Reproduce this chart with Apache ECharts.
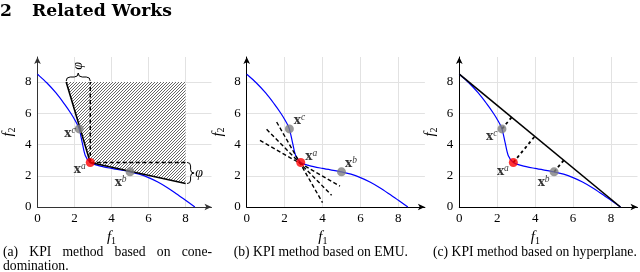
<!DOCTYPE html>
<html><head><meta charset="utf-8">
<script src="https://cdn.jsdelivr.net/npm/echarts@6/dist/echarts.min.js"></script>
<style>html,body{margin:0;padding:0;background:#fff}#c{width:640px;height:272px}</style>
</head><body><div id="c"></div>
<script>
// ---------------- data ----------------
const frontF1 = [0, 0.5, 1.0, 1.45, 1.8, 2.05, 2.25, 2.42, 2.58, 2.85, 3.3, 4.0, 5.0, 5.5, 6.0, 6.5, 7.0, 7.5, 8.0, 8.5];
const frontF2 = [8.5, 7.95, 7.3, 6.6, 6.0, 5.5, 5.0, 4.1, 3.3, 2.85, 2.65, 2.47, 2.25, 2.1, 1.88, 1.6, 1.25, 0.85, 0.43, 0];
const pointA = [2.85, 2.85];
const pointB = [5.0, 2.25];
const pointC = [2.25, 5.0];
const pointNames = ['c', 'a', 'b'];
const axisTicks = [0, 2, 4, 6, 8];
// (a) cone domination
const coneLineF1 = [1.55, 2.85, 8.0];
const coneLineF2 = [8.0, 2.85, 1.5];
const hatchF1 = [1.55, 2.85, 8.0, 8.0];
const hatchF2 = [8.0, 2.85, 1.5, 8.0];
const coneDashV = [[2.85, 2.85], [2.85, 8.0]];
const coneDashH = [[2.85, 2.85], [8.0, 2.85]];
const braceTop = [[1.55, 8.0], [2.85, 8.0]];
const braceRight = [[8.0, 2.85], [8.0, 1.5]];
// (b) EMU: dashed lines through x^a
const emuLines = [
  [[0.7, 4.26], [4.92, 1.34]],
  [[1.05, 4.97], [4.48, 0.75]],
  [[1.58, 5.44], [4.0, 0.28]]
];
// (c) hyperplane
const hyperplane = [[0, 8.5], [8.5, 0]];
const projections = [
  [[2.25, 5.0], [2.76, 5.74]],
  [[2.85, 2.85], [3.98, 4.52]],
  [[5.0, 2.25], [5.51, 2.99]]
];
const captionA1 = ['(a)', 'KPI', 'method', 'based', 'on', 'cone-'];
const captionA2 = 'domination.';
const captionB = '(b) KPI method based on EMU.';
const captionC = '(c) KPI method based on hyperplane.';
const titleNum = '2';
const titleText = 'Related Works';

// ---------------- helpers ----------------
const SERIF = 'Liberation Serif';
const CAP = 'DejaVu Serif';
const measureCtx = document.createElement('canvas').getContext('2d');
function textW(t, font) { measureCtx.font = font; return measureCtx.measureText(t).width; }

function makeHatch() {
  const c = document.createElement('canvas');
  c.width = 3; c.height = 3;
  const g = c.getContext('2d');
  g.fillStyle = '#fff'; g.fillRect(0, 0, 3, 3);
  g.strokeStyle = '#666'; g.lineWidth = 1;
  g.beginPath();
  [0, 3, 6].forEach(s => { g.moveTo(s - 4, 4); g.lineTo(s + 1, -1); });
  g.stroke();
  return c;
}
const hatch = { image: makeHatch(), repeat: 'repeat' };

const lefts = [33.3, 246.7, 459.3];
const axisColors = ['#333', '#000', '#000'];
const grids = lefts.map(l => ({ left: l, width: 178.2, top: 57, height: 150 }));

const nameRich = {
  i: { fontFamily: SERIF, fontStyle: 'italic', fontSize: 15, lineHeight: 18, color: '#000' },
  s: { fontFamily: SERIF, fontSize: 10, lineHeight: 10, verticalAlign: 'bottom', color: '#000' }
};

function xAx(i) {
  return {
    gridIndex: i, type: 'value', min: 0, max: 9.4, interval: 2,
    axisLine: { show: true, onZero: false, symbol: ['none', 'arrow'], symbolSize: [5, 7], lineStyle: { color: axisColors[i], width: 1 } },
    axisTick: { show: false },
    axisLabel: { showMaxLabel: false, color: '#000', fontFamily: SERIF, fontSize: 13, margin: 5,
      formatter: v => axisTicks.includes(v) ? String(v) : '' },
    splitLine: { show: true, showMaxLine: false, lineStyle: { color: '#e2e2e2', width: 1 } },
    name: '{i|f}{s|1}', nameLocation: 'middle', nameGap: 20,
    nameTextStyle: { rich: nameRich, padding: [0, 26, 0, 0] }
  };
}
function yAx(i) {
  return {
    gridIndex: i, type: 'value', min: 0, max: 9.6, interval: 2,
    axisLine: { show: true, onZero: false, symbol: ['none', 'arrow'], symbolSize: [5, 7], lineStyle: { color: axisColors[i], width: 1 } },
    axisTick: { show: false },
    axisLabel: { showMaxLabel: false, color: '#000', fontFamily: SERIF, fontSize: 13, margin: 6,
      formatter: v => axisTicks.includes(v) ? String(v) : '' },
    splitLine: { show: true, showMaxLine: false, lineStyle: { color: '#e2e2e2', width: 1 } },
    name: '{i|f}{s|2}', nameLocation: 'middle', nameGap: 20, nameRotate: 90,
    nameTextStyle: { rich: nameRich }
  };
}

const series = [];
function seg(i, pts, opts) {
  series.push(Object.assign({
    type: 'line', xAxisIndex: i, yAxisIndex: i, data: pts, showSymbol: false, symbol: 'none',
    silent: true, animation: false,
    lineStyle: { color: '#000', width: 1.5 }
  }, opts));
}

// (a) hatch polygon
series.push({
  type: 'custom', xAxisIndex: 0, yAxisIndex: 0, data: [[0, 0]], z: 1, silent: true, animation: false,
  renderItem: (p, api) => ({
    type: 'polygon',
    shape: { points: hatchF1.map((x, k) => api.coord([x, hatchF2[k]])) },
    style: { fill: hatch, stroke: null }
  })
});
// braces + phi
function bracePath(p1, p2, n, w) {
  const len = Math.hypot(p2[0] - p1[0], p2[1] - p1[1]);
  const d = [(p2[0] - p1[0]) / len, (p2[1] - p1[1]) / len];
  const m = [(p1[0] + p2[0]) / 2, (p1[1] + p2[1]) / 2];
  const h = w / 2;
  const P = (b, a, c) => [b[0] + a * d[0] + c * n[0], b[1] + a * d[1] + c * n[1]];
  const pts = [p1, P(p1, 0, h), P(p1, h, h), P(m, -h, h), P(m, 0, h), P(m, 0, w), P(m, 0, h), P(m, h, h), P(p2, -h, h), P(p2, 0, h), p2];
  const f = q => q[0].toFixed(2) + ' ' + q[1].toFixed(2);
  return 'M' + f(pts[0]) + ' Q' + f(pts[1]) + ' ' + f(pts[2]) + ' L' + f(pts[3]) + ' Q' + f(pts[4]) + ' ' + f(pts[5]) +
    ' Q' + f(pts[6]) + ' ' + f(pts[7]) + ' L' + f(pts[8]) + ' Q' + f(pts[9]) + ' ' + f(pts[10]);
}
series.push({
  type: 'custom', xAxisIndex: 0, yAxisIndex: 0, data: [[0, 0]], z: 6, silent: true, animation: false,
  renderItem: (p, api) => {
    const t1 = api.coord(braceTop[0]), t2 = api.coord(braceTop[1]);
    const r1 = api.coord(braceRight[0]), r2 = api.coord(braceRight[1]);
    t1[1] -= 1; t2[1] -= 1; r1[0] += 1.5; r2[0] += 1.5;
    const tm = [(t1[0] + t2[0]) / 2, t1[1]];
    const rm = [r1[0], (r1[1] + r2[1]) / 2];
    return {
      type: 'group', children: [
        { type: 'path', shape: { pathData: bracePath(t1, t2, [0, -1], 8) }, style: { fill: null, stroke: '#000', lineWidth: 1 } },
        { type: 'path', shape: { pathData: bracePath(r1, r2, [1, 0], 7) }, style: { fill: null, stroke: '#000', lineWidth: 1 } },
        { type: 'text', x: tm[0], y: tm[1] - 15, rotation: Math.PI / 2,
          style: { text: 'φ', font: 'italic 14px ' + SERIF, fill: '#000', align: 'center', verticalAlign: 'middle' } },
        { type: 'text', x: rm[0] + 12, y: rm[1],
          style: { text: 'φ', font: 'italic 14px ' + SERIF, fill: '#000', align: 'center', verticalAlign: 'middle' } }
      ]
    };
  }
});
seg(0, coneDashV, { z: 4, lineStyle: { color: '#000', width: 1.5, type: [4, 2.5] } });
seg(0, coneDashH, { z: 4, lineStyle: { color: '#000', width: 1.5, type: [4, 2.5] } });
seg(0, coneLineF1.map((x, k) => [x, coneLineF2[k]]), { z: 5, lineStyle: { color: '#000', width: 1.6 } });
// (b) EMU dashed lines
emuLines.forEach(l => seg(1, l, { z: 4, lineStyle: { color: '#000', width: 1.4, type: [4, 2.5] } }));
// (c) hyperplane + projections
seg(2, hyperplane, { z: 5, lineStyle: { color: '#000', width: 1.6 } });
projections.forEach(l => seg(2, l, { z: 4, lineStyle: { color: '#000', width: 1.8, type: [3, 3] } }));

// Pareto front in each panel: smooth Catmull-Rom spline through the data points
function splinePath(P) {
  let d = 'M' + P[0][0].toFixed(2) + ' ' + P[0][1].toFixed(2);
  for (let i = 0; i < P.length - 1; i++) {
    const p0 = P[i - 1] || P[i], p1 = P[i], p2 = P[i + 1], p3 = P[i + 2] || P[i + 1];
    const c1 = [p1[0] + (p2[0] - p0[0]) / 6, p1[1] + (p2[1] - p0[1]) / 6];
    const c2 = [p2[0] - (p3[0] - p1[0]) / 6, p2[1] - (p3[1] - p1[1]) / 6];
    d += ' C' + c1[0].toFixed(2) + ' ' + c1[1].toFixed(2) + ' ' + c2[0].toFixed(2) + ' ' + c2[1].toFixed(2) + ' ' + p2[0].toFixed(2) + ' ' + p2[1].toFixed(2);
  }
  return d;
}
[0, 1, 2].forEach(i => series.push({
  type: 'custom', xAxisIndex: i, yAxisIndex: i, data: [[0, 0]], z: 3, silent: true, animation: false,
  renderItem: (p, api) => ({
    type: 'path',
    shape: { pathData: splinePath(frontF1.map((x, k) => api.coord([x, frontF2[k]]))) },
    style: { fill: null, stroke: '#0000ff', lineWidth: 1.2 }
  })
}));

// points with labels
const labelRich = {
  x: { fontFamily: CAP, fontWeight: 'bold', fontSize: 12, lineHeight: 16, color: '#000' },
  s: { fontFamily: SERIF, fontStyle: 'italic', fontSize: 9.5, lineHeight: 9, verticalAlign: 'top', color: '#000' }
};
const pts = [pointC, pointA, pointB];
const place = [
  [['left', -1, [0, 5]], ['left', 0, [0, 7]], ['left', -1, [0, 11]]],
  [['right', 0, [0, -8]], ['right', 0, [0, -6]], ['right', -1, [0, -8]]],
  [['left', 0, [0, 8]], ['left', 0, [0, 9]], ['left', 0, [0, 11]]]
];
[0, 1, 2].forEach(i => {
  pts.forEach((pt, k) => {
    const pl = place[i][k];
    series.push({
      type: 'scatter', xAxisIndex: i, yAxisIndex: i, z: 8, silent: true, animation: false,
      symbol: 'circle', symbolSize: 9,
      itemStyle: { color: pointNames[k] === 'a' ? '#ff0000' : '#808080', borderWidth: 0 },
      data: [pt],
      label: { show: true, position: pl[0], distance: pl[1], offset: pl[2],
        formatter: '{x|x}{s|' + pointNames[k] + '}', rich: labelRich }
    });
  });
});

// ---------------- text (title, captions) ----------------
const graphics = [];
function fitSize(text, family, weight, target, base) {
  const w = textW(text, weight + ' ' + base + 'px ' + family);
  return base * target / w;
}
const tSize = fitSize(titleText, CAP, 'bold', 140, 17);
graphics.push({ type: 'text', x: 0, y: 12, style: { text: titleNum, font: 'bold ' + tSize.toFixed(2) + 'px ' + CAP, fill: '#000', verticalAlign: 'middle' } });
graphics.push({ type: 'text', x: 32, y: 12, style: { text: titleText, font: 'bold ' + tSize.toFixed(2) + 'px ' + CAP, fill: '#000', verticalAlign: 'middle' } });

const cSize = fitSize(captionC, SERIF, 'normal', 204, 12);
const cFont = 'normal ' + cSize.toFixed(2) + 'px ' + SERIF;
graphics.push({ type: 'text', x: 408, y: 252, style: { text: captionB, font: cFont, fill: '#000', align: 'right', verticalAlign: 'middle' } });
graphics.push({ type: 'text', x: 433, y: 252, style: { text: captionC, font: cFont, fill: '#000', align: 'left', verticalAlign: 'middle' } });
// justified line for (a)
(function () {
  const x0 = 3, x1 = 212;
  const ws = captionA1.map(w => textW(w, cFont));
  const gap = (x1 - x0 - ws.reduce((a, b) => a + b, 0)) / (captionA1.length - 1);
  let x = x0;
  captionA1.forEach((w, k) => {
    graphics.push({ type: 'text', x: x, y: 252, style: { text: w, font: cFont, fill: '#000', verticalAlign: 'middle' } });
    x += ws[k] + gap;
  });
})();
graphics.push({ type: 'text', x: 3, y: 266, style: { text: captionA2, font: cFont, fill: '#000', verticalAlign: 'middle' } });

const chart = echarts.init(document.getElementById('c'), null, { renderer: 'canvas' });
chart.setOption({
  animation: false,
  backgroundColor: '#fff',
  grid: grids,
  xAxis: [0, 1, 2].map(xAx),
  yAxis: [0, 1, 2].map(yAx),
  series: series,
  graphic: graphics
});
</script></body></html>
